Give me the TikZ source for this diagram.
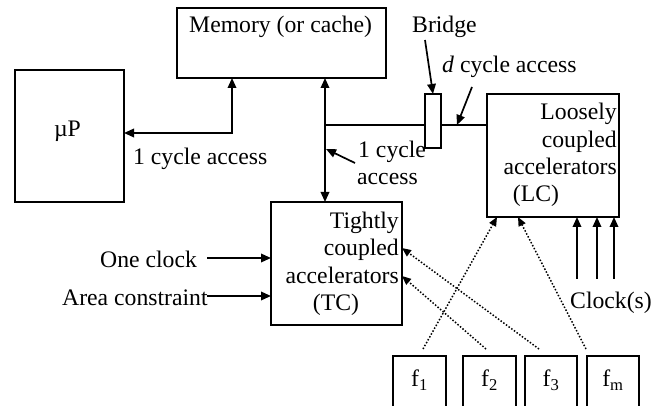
\documentclass[tikz,border=0pt]{standalone}
\usepackage{fontspec}
\setmainfont{Liberation Serif}
\usetikzlibrary{arrows.meta}
\begin{document}
\begin{tikzpicture}[x=1pt,y=-1pt,
  box/.style={draw,line width=1.3pt,inner sep=0pt,outer sep=0pt},
  ghost/.style={inner sep=0pt,outer sep=0pt},
  lbl/.style={inner sep=0pt,font=\fontsize{23.7}{28}\selectfont},
  tipA/.tip={Triangle[length=10pt,width=8.5pt]},
  arr/.style={line width=1.8pt,-tipA},
  darr/.style={line width=1.8pt,tipA-tipA},
  parr/.style={line width=1.7pt,-tipA},
  wire/.style={line width=1.8pt},
  dots/.style={line width=1.5pt,dash pattern=on 1.5pt off 1.8pt,-{Triangle[length=9pt,width=7.5pt]}},
  fside/.style={line width=1.3pt}]
\useasboundingbox (0,0) rectangle (662,406);

% boxes
\node[box,minimum width=209pt,minimum height=70pt] (mem) at (281.5,43) {};
\node[box,minimum width=109pt,minimum height=132pt] (up) at (69.5,136) {};
\node[box,minimum width=131pt,minimum height=123pt] (tc) at (336.5,263.5) {};
\node[box,minimum width=132pt,minimum height=123pt] (lc) at (553,155.5) {};
\node[box,minimum width=16pt,minimum height=54pt] (br) at (433,121) {};

% f boxes (open at bottom)
\node[ghost,minimum width=53pt,minimum height=50pt] (f1) at (419.5,381) {};
\node[ghost,minimum width=53pt,minimum height=50pt] (f2) at (489.5,381) {};
\node[ghost,minimum width=52pt,minimum height=50pt] (f3) at (551,381) {};
\node[ghost,minimum width=52pt,minimum height=50pt] (fm) at (613,381) {};
\foreach \f in {f1,f2,f3,fm}{
  \draw[fside] (\f.south west) -- (\f.north west) -- (\f.north east) -- (\f.south east);
}
\node[lbl,anchor=base] (f1t) at (419.5,387) {f\textsubscript{1}};
\node[lbl,anchor=base] (f2t) at (489.5,387) {f\textsubscript{2}};
\node[lbl,anchor=base] (f3t) at (551,387) {f\textsubscript{3}};
\node[lbl,anchor=base] (fmt) at (613,387) {f\textsubscript{m}};

% texts
\node[lbl,anchor=base west] (memt) at (189,33) {Memory (or cache)};
\node[lbl,anchor=base] (upt) at (67.5,137) {µP};
\node[lbl,anchor=base west] (acc1) at (133,165) {1 cycle access};
\node[lbl,anchor=base west] (brt) at (412,33) {Bridge};
\node[lbl,anchor=base west] (dacc) at (442,73) {\textit{d} cycle access};
\node[lbl,anchor=base west] (acc2a) at (358,158) {1 cycle};
\node[lbl,anchor=base west] (acc2b) at (357,185) {access};
\node[lbl,anchor=base east] (lc1) at (617,120) {Loosely};
\node[lbl,anchor=base east] (lc2) at (617,148) {coupled};
\node[lbl,anchor=base east] (lc3) at (617,175) {accelerators};
\node[lbl,anchor=base] (lc4) at (536,202) {(LC)};
\node[lbl,anchor=base east] (tc1) at (399,229) {Tightly};
\node[lbl,anchor=base east] (tc2) at (399,256) {coupled};
\node[lbl,anchor=base east] (tc3) at (399,284) {accelerators};
\node[lbl,anchor=base] (tc4) at (336,311) {(TC)};
\node[lbl,anchor=base west] (oct) at (100,268) {One clock};
\node[lbl,anchor=base west] (act) at (62,306) {Area constraint};
\node[lbl,anchor=base west] (clk) at (570,309) {Clock(s)};

% connectors
\coordinate (j1) at (232,133);
\draw[darr] (up.east |- j1) -- (j1) -- (j1 |- mem.south);
\coordinate (j2) at (325,125);
\draw[darr] (j2 |- mem.south) -- (j2 |- tc.north);
\draw[wire] (j2) -- (br.west |- j2);
\draw[wire] (br.east |- j2) -- (lc.west |- j2);

\coordinate (bs) at (425,40);
\draw[parr] (bs) -- (br.north);
\coordinate (ds) at (472,87);
\coordinate (de) at (457,125);
\draw[parr] (ds) -- (de);
\coordinate (as) at (355,163);
\coordinate (ae) at (326,149);
\draw[parr] (as) -- (ae);

\coordinate (oc) at (207,258);
\draw[arr] (oc) -- (tc.west |- oc);
\coordinate (ac) at (207,296);
\draw[arr] (ac) -- (tc.west |- ac);

\coordinate (k1) at (577,279);
\coordinate (k2) at (597,279);
\coordinate (k3) at (614,279);
\foreach \k in {k1,k2,k3}{
  \draw[arr] (\k) -- (\k |- lc.south);
}

% dotted
\coordinate (d1s) at (423,349);
\coordinate (d1e) at (497,0);
\draw[dots] (d1s) -- (d1e |- lc.south);
\coordinate (dms) at (586,349);
\coordinate (dme) at (518,0);
\draw[dots] (dms) -- (dme |- lc.south);
\coordinate (d3s) at (539,349);
\coordinate (d3e) at (0,248);
\draw[dots] (d3s) -- (tc.east |- d3e);
\coordinate (d2s) at (486,349);
\coordinate (d2e) at (0,276);
\draw[dots] (d2s) -- (tc.east |- d2e);
\end{tikzpicture}
\end{document}
